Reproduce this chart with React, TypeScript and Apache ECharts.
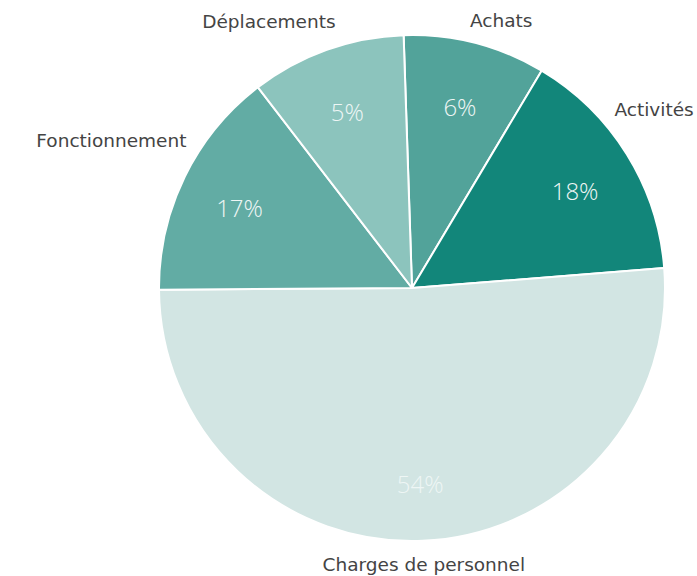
import React, { useEffect, useRef } from "react";
import * as echarts from "echarts";

const categories = ["Achats", "Activités", "Charges de personnel", "Fonctionnement", "Déplacements"];
const sliceValues = [9.1, 15.2, 51.2, 14.7, 9.9];
const percentLabels = ["6%", "18%", "54%", "17%", "5%"];
const sliceColors = ["#52a39a", "#12867a", "#d2e5e3", "#62aca4", "#8cc4bd"];

const W = 697;
const H = 576;
const CX = 412;
const CY = 288;
const R = 253;
const START = 91.9;
const GAP = 10;
const EDGE = { left: 2, right: 2, top: 11, bottom: 0 };

export default function App() {
  const ref = useRef<HTMLDivElement>(null);
  useEffect(() => {
    if (!ref.current) return;
    const chart = echarts.init(ref.current, null, { renderer: "svg" });
    const total = sliceValues.reduce((a, b) => a + b, 0);
    const cum: number[] = [];
    let acc = 0;
    sliceValues.forEach((v) => {
      cum.push(acc);
      acc += v;
    });
    const data = categories.map((name, i) => ({
      name,
      value: sliceValues[i],
      itemStyle: { color: sliceColors[i] },
    }));
    const ghost = categories.map((name, i) => ({ name, value: sliceValues[i] }));

    const place = (deg: number, w: number, h: number) => {
      const a = ((START - deg) * Math.PI) / 180;
      const ux = Math.cos(a);
      const uy = -Math.sin(a);
      const d = R + GAP + (Math.abs(ux) * w) / 2 + (Math.abs(uy) * h) / 2;
      const x = CX + d * ux;
      const y = CY + d * uy;
      const ok =
        x - w / 2 >= EDGE.left &&
        x + w / 2 <= W - EDGE.right &&
        y - h / 2 >= EDGE.top &&
        y + h / 2 <= H - EDGE.bottom;
      return { x, y, ok };
    };

    chart.setOption({
      animation: false,
      backgroundColor: "#ffffff",
      series: [
        {
          type: "pie",
          center: [CX, CY],
          radius: R,
          startAngle: START,
          clockwise: true,
          avoidLabelOverlap: false,
          data,
          itemStyle: { borderColor: "#ffffff", borderWidth: 2 },
          label: {
            show: true,
            position: "outside",
            formatter: "{b}",
            color: "#444444",
            fontSize: 18.5,
            fontFamily: "DejaVu Sans",
          },
          labelLine: { show: false },
          labelLayout: (params: any) => {
            const i = params.dataIndex;
            const mid = ((cum[i] + sliceValues[i] / 2) / total) * 360;
            const w = params.labelRect.width;
            const h = params.labelRect.height;
            let best = place(mid, w, h);
            if (!best.ok) {
              for (let k = 0.5; k <= 90; k += 0.5) {
                const p1 = place(mid + k, w, h);
                if (p1.ok) { best = p1; break; }
                const p2 = place(mid - k, w, h);
                if (p2.ok) { best = p2; break; }
              }
            }
            return { x: best.x, y: best.y, align: "center", verticalAlign: "middle" };
          },
          emphasis: { disabled: true },
        },
        {
          type: "pie",
          center: [CX, CY],
          radius: [125, R],
          startAngle: START,
          clockwise: true,
          silent: true,
          data: ghost,
          itemStyle: { color: "rgba(0,0,0,0)", borderWidth: 0 },
          label: {
            show: true,
            position: "inside",
            formatter: (p: any) => "{s| }\n{p|" + percentLabels[p.dataIndex] + "}",
            rich: {
              s: { fontSize: 8, lineHeight: 8 },
              p: {
                color: "#eef6f5",
                fontSize: 24,
                fontWeight: 300,
                fontFamily: "Open Sans",
                lineHeight: 30,
              },
            },
          },
          labelLine: { show: false },
          emphasis: { disabled: true },
        },
      ],
    });
    return () => chart.dispose();
  }, []);
  return (
    <div ref={ref} style={{ position: "fixed", left: 0, top: 0, width: W, height: H }} />
  );
}
